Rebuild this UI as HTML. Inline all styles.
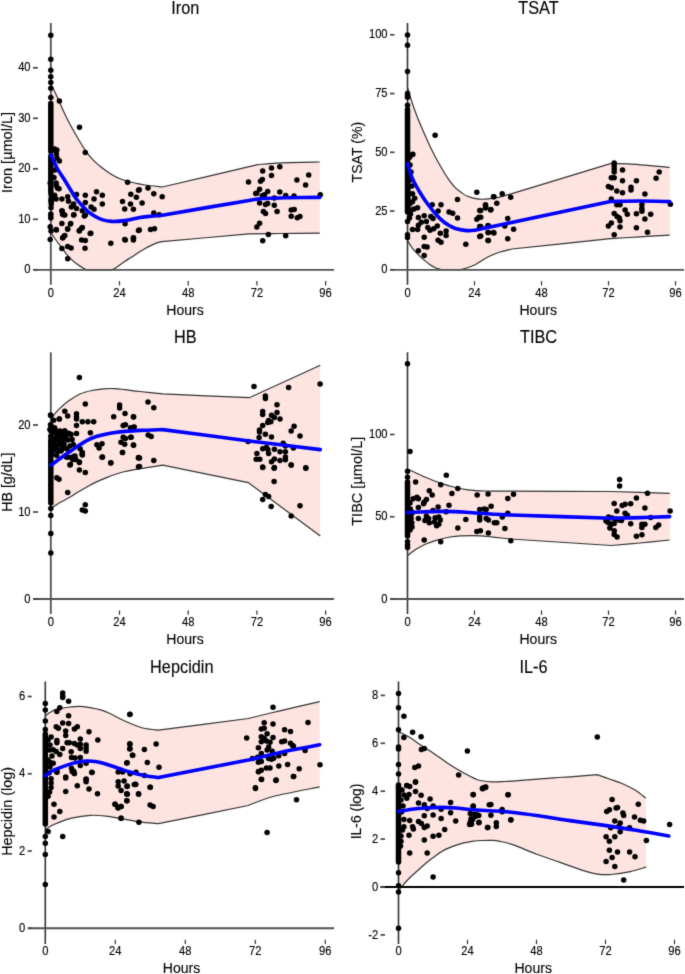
<!DOCTYPE html>
<html><head><meta charset="utf-8"><style>
html,body{margin:0;padding:0;background:#fff;}
svg{display:block;font-family:"Liberation Sans",sans-serif;}
</style></head><body>
<svg width="685" height="974" viewBox="0 0 685 974">
<defs><filter id="b" filterUnits="userSpaceOnUse" x="-5" y="-5" width="695" height="984" color-interpolation-filters="sRGB"><feConvolveMatrix order="3" kernelMatrix="1 6 1 6 40 6 1 6 1" divisor="68" edgeMode="duplicate"/></filter></defs><rect width="685" height="974" fill="#fff"/>
<g filter="url(#b)">
<path d="M50.8,85.5 C51.1,85.78 51.57,85.35 52.6,87.2 C53.63,89.05 55.83,94.03 57,96.6 C58.17,99.17 58.43,100 59.6,102.6 C60.77,105.2 62.53,109.1 64,112.2 C65.47,115.3 66.8,118.1 68.4,121.2 C70,124.3 71.92,127.78 73.6,130.8 C75.28,133.82 76.52,136 78.5,139.3 C80.48,142.6 83.17,147.25 85.5,150.6 C87.83,153.95 89.87,156.62 92.5,159.4 C95.13,162.18 98.38,164.95 101.3,167.3 C104.22,169.65 107.08,171.67 110,173.5 C112.92,175.33 115.88,176.98 118.8,178.3 C121.72,179.62 124.8,180.62 127.5,181.4 C130.2,182.18 132.08,182.4 135,183 C137.92,183.6 140.45,184.33 145,185 C149.55,185.67 159.42,186.67 162.3,187 C178.2,183.27 241.8,168.33 257.7,164.6 C261.6,164.3 270.75,163.23 281.1,162.8 C291.45,162.37 313.35,162.13 319.8,162 L319.8,233.2 C313.17,233.25 291.8,233.38 280,233.5 C268.2,233.62 254.17,233.83 249,233.9 C234.5,235.18 176.5,240.32 162,241.6 C160.83,241.93 158.1,242.28 155,243.6 C151.9,244.92 147.28,247.27 143.4,249.5 C139.52,251.73 134.77,255.05 131.7,257 C128.63,258.95 126.95,259.9 125,261.2 C123.05,262.5 121.5,263.7 120,264.8 C118.5,265.9 117.42,266.97 116,267.8 C114.58,268.63 112.25,269.47 111.5,269.8 C107.33,269.8 90.67,269.8 86.5,269.8 C86.17,269.63 85.92,269.65 84.5,268.8 C83.08,267.95 80.55,266.6 78,264.7 C75.45,262.8 72.37,260.82 69.2,257.4 C66.03,253.98 62.07,248.33 59,244.2 C55.93,240.07 52.17,234.53 50.8,232.6 Z" fill="#fde4e0" stroke="none"/>
<path d="M50.8,85.5 C51.1,85.78 51.57,85.35 52.6,87.2 C53.63,89.05 55.83,94.03 57,96.6 C58.17,99.17 58.43,100 59.6,102.6 C60.77,105.2 62.53,109.1 64,112.2 C65.47,115.3 66.8,118.1 68.4,121.2 C70,124.3 71.92,127.78 73.6,130.8 C75.28,133.82 76.52,136 78.5,139.3 C80.48,142.6 83.17,147.25 85.5,150.6 C87.83,153.95 89.87,156.62 92.5,159.4 C95.13,162.18 98.38,164.95 101.3,167.3 C104.22,169.65 107.08,171.67 110,173.5 C112.92,175.33 115.88,176.98 118.8,178.3 C121.72,179.62 124.8,180.62 127.5,181.4 C130.2,182.18 132.08,182.4 135,183 C137.92,183.6 140.45,184.33 145,185 C149.55,185.67 159.42,186.67 162.3,187 C178.2,183.27 241.8,168.33 257.7,164.6 C261.6,164.3 270.75,163.23 281.1,162.8 C291.45,162.37 313.35,162.13 319.8,162" fill="none" stroke="#333" stroke-width="1.2"/>
<path d="M50.8,232.6 C52.17,234.53 55.93,240.07 59,244.2 C62.07,248.33 66.03,253.98 69.2,257.4 C72.37,260.82 75.45,262.8 78,264.7 C80.55,266.6 83.08,267.95 84.5,268.8 C85.92,269.65 86.17,269.63 86.5,269.8 C90.67,269.8 107.33,269.8 111.5,269.8 C112.25,269.47 114.58,268.63 116,267.8 C117.42,266.97 118.5,265.9 120,264.8 C121.5,263.7 123.05,262.5 125,261.2 C126.95,259.9 128.63,258.95 131.7,257 C134.77,255.05 139.52,251.73 143.4,249.5 C147.28,247.27 151.9,244.92 155,243.6 C158.1,242.28 160.83,241.93 162,241.6 C176.5,240.32 234.5,235.18 249,233.9 C254.17,233.83 268.2,233.62 280,233.5 C291.8,233.38 313.17,233.25 319.8,233.2" fill="none" stroke="#333" stroke-width="1.2"/>
<line x1="50.8" y1="23" x2="50.8" y2="284.7" stroke="#505050" stroke-width="1.8"/>
<line x1="33.8" y1="269.8" x2="334" y2="269.8" stroke="#505050" stroke-width="1.8"/>
<line x1="33" y1="269.8" x2="38" y2="269.8" stroke="#444" stroke-width="1.7"/>
<text transform="translate(30.6,273.4) scale(1,1.12)" font-size="11.2" text-anchor="end" fill="#000" stroke="#000" stroke-width="0.12">0</text>
<line x1="33" y1="219.3" x2="38" y2="219.3" stroke="#444" stroke-width="1.7"/>
<text transform="translate(30.6,222.9) scale(1,1.12)" font-size="11.2" text-anchor="end" fill="#000" stroke="#000" stroke-width="0.12">10</text>
<line x1="33" y1="168.8" x2="38" y2="168.8" stroke="#444" stroke-width="1.7"/>
<text transform="translate(30.6,172.4) scale(1,1.12)" font-size="11.2" text-anchor="end" fill="#000" stroke="#000" stroke-width="0.12">20</text>
<line x1="33" y1="118.3" x2="38" y2="118.3" stroke="#444" stroke-width="1.7"/>
<text transform="translate(30.6,121.9) scale(1,1.12)" font-size="11.2" text-anchor="end" fill="#000" stroke="#000" stroke-width="0.12">30</text>
<line x1="33" y1="67.8" x2="38" y2="67.8" stroke="#444" stroke-width="1.7"/>
<text transform="translate(30.6,71.4) scale(1,1.12)" font-size="11.2" text-anchor="end" fill="#000" stroke="#000" stroke-width="0.12">40</text>
<text transform="translate(50.8,296.75) scale(1,1.12)" font-size="11.2" text-anchor="middle" fill="#000" stroke="#000" stroke-width="0.12">0</text>
<line x1="119.5" y1="281.1" x2="119.5" y2="285.5" stroke="#333" stroke-width="1.2"/>
<text transform="translate(119.5,296.75) scale(1,1.12)" font-size="11.2" text-anchor="middle" fill="#000" stroke="#000" stroke-width="0.12">24</text>
<line x1="188.2" y1="281.1" x2="188.2" y2="285.5" stroke="#333" stroke-width="1.2"/>
<text transform="translate(188.2,296.75) scale(1,1.12)" font-size="11.2" text-anchor="middle" fill="#000" stroke="#000" stroke-width="0.12">48</text>
<line x1="256.9" y1="281.1" x2="256.9" y2="285.5" stroke="#333" stroke-width="1.2"/>
<text transform="translate(256.9,296.75) scale(1,1.12)" font-size="11.2" text-anchor="middle" fill="#000" stroke="#000" stroke-width="0.12">72</text>
<line x1="325.6" y1="281.1" x2="325.6" y2="285.5" stroke="#333" stroke-width="1.2"/>
<text transform="translate(325.6,296.75) scale(1,1.12)" font-size="11.2" text-anchor="middle" fill="#000" stroke="#000" stroke-width="0.12">96</text>
<line x1="50.8" y1="103.5" x2="50.8" y2="151.5" stroke="#000" stroke-width="5.5" stroke-linecap="round"/>
<line x1="50.8" y1="156" x2="50.8" y2="192" stroke="#000" stroke-width="5.5" stroke-linecap="round"/>
<line x1="51.2" y1="198" x2="51.2" y2="204" stroke="#000" stroke-width="5.5" stroke-linecap="round"/>
<line x1="50.8" y1="214" x2="50.8" y2="218" stroke="#000" stroke-width="5.5" stroke-linecap="round"/>
<g fill="#000"><circle cx="50.8" cy="35.2" r="2.75"/><circle cx="50.8" cy="59.3" r="2.75"/><circle cx="50.8" cy="70.2" r="2.75"/><circle cx="50.8" cy="76.8" r="2.75"/><circle cx="50.8" cy="82.6" r="2.75"/><circle cx="50.8" cy="88.2" r="2.75"/><circle cx="50.8" cy="97.6" r="2.75"/><circle cx="59.4" cy="101.1" r="2.75"/><circle cx="79.5" cy="127.3" r="2.75"/><circle cx="85.3" cy="152.5" r="2.75"/><circle cx="127.6" cy="182.3" r="2.75"/><circle cx="59.4" cy="161.1" r="2.75"/><circle cx="56.8" cy="149.9" r="2.75"/><circle cx="54.6" cy="149.1" r="2.75"/><circle cx="55.2" cy="150.5" r="2.75"/><circle cx="56.4" cy="154" r="2.75"/><circle cx="50.2" cy="182.9" r="2.75"/><circle cx="56.1" cy="182.9" r="2.75"/><circle cx="57.5" cy="188" r="2.75"/><circle cx="59" cy="188.8" r="2.75"/><circle cx="51" cy="194.6" r="2.75"/><circle cx="54.6" cy="195.3" r="2.75"/><circle cx="51" cy="200.4" r="2.75"/><circle cx="56.1" cy="199" r="2.75"/><circle cx="61.9" cy="199" r="2.75"/><circle cx="67.7" cy="196.8" r="2.75"/><circle cx="68.5" cy="201.2" r="2.75"/><circle cx="76.5" cy="194.6" r="2.75"/><circle cx="85.3" cy="195.3" r="2.75"/><circle cx="96.5" cy="191.7" r="2.75"/><circle cx="102.3" cy="195.3" r="2.75"/><circle cx="94" cy="199" r="2.75"/><circle cx="102.3" cy="204.1" r="2.75"/><circle cx="85.3" cy="202.6" r="2.75"/><circle cx="73.6" cy="204.1" r="2.75"/><circle cx="71.4" cy="207" r="2.75"/><circle cx="76.5" cy="208.5" r="2.75"/><circle cx="82.3" cy="210.7" r="2.75"/><circle cx="91.1" cy="207" r="2.75"/><circle cx="94" cy="209.2" r="2.75"/><circle cx="85.3" cy="215" r="2.75"/><circle cx="73.6" cy="215" r="2.75"/><circle cx="61.9" cy="210.7" r="2.75"/><circle cx="62.6" cy="214.3" r="2.75"/><circle cx="64.8" cy="215" r="2.75"/><circle cx="51" cy="207.7" r="2.75"/><circle cx="61.9" cy="223.5" r="2.75"/><circle cx="70.7" cy="223.5" r="2.75"/><circle cx="67.7" cy="229.2" r="2.75"/><circle cx="56.1" cy="229.6" r="2.75"/><circle cx="50.2" cy="226.7" r="2.75"/><circle cx="51" cy="231.1" r="2.75"/><circle cx="82.3" cy="227.4" r="2.75"/><circle cx="79.4" cy="230.4" r="2.75"/><circle cx="90.8" cy="233.3" r="2.75"/><circle cx="64.8" cy="235.5" r="2.75"/><circle cx="62.6" cy="238.1" r="2.75"/><circle cx="81.6" cy="239.9" r="2.75"/><circle cx="85.3" cy="240.6" r="2.75"/><circle cx="50.2" cy="239.6" r="2.75"/><circle cx="61.9" cy="248.6" r="2.75"/><circle cx="67.7" cy="246.4" r="2.75"/><circle cx="71.1" cy="247.9" r="2.75"/><circle cx="85" cy="248.2" r="2.75"/><circle cx="67.7" cy="258.8" r="2.75"/><circle cx="110.8" cy="243.2" r="2.75"/><circle cx="124.7" cy="239.6" r="2.75"/><circle cx="133.4" cy="237.7" r="2.75"/><circle cx="133.4" cy="239.9" r="2.75"/><circle cx="138.5" cy="230.4" r="2.75"/><circle cx="125.1" cy="223.8" r="2.75"/><circle cx="122.5" cy="201.6" r="2.75"/><circle cx="124.7" cy="208.9" r="2.75"/><circle cx="130.5" cy="204.1" r="2.75"/><circle cx="133.4" cy="209.2" r="2.75"/><circle cx="130.8" cy="194.3" r="2.75"/><circle cx="136.4" cy="197.2" r="2.75"/><circle cx="138.5" cy="190.2" r="2.75"/><circle cx="54" cy="177.4" r="2.75"/><circle cx="56.4" cy="185.6" r="2.75"/><circle cx="55" cy="170" r="2.75"/><circle cx="53.5" cy="162" r="2.75"/><circle cx="57" cy="158" r="2.75"/><circle cx="139.3" cy="189.8" r="2.75"/><circle cx="148" cy="187.9" r="2.75"/><circle cx="153.8" cy="193.7" r="2.75"/><circle cx="162.2" cy="196.8" r="2.75"/><circle cx="142.1" cy="203.1" r="2.75"/><circle cx="150.5" cy="229.5" r="2.75"/><circle cx="154.5" cy="228.8" r="2.75"/><circle cx="153.8" cy="212.9" r="2.75"/><circle cx="159.2" cy="214.8" r="2.75"/><circle cx="125.3" cy="240" r="2.75"/><circle cx="133.5" cy="238.1" r="2.75"/><circle cx="139.3" cy="230" r="2.75"/><circle cx="63.4" cy="237" r="2.75"/><circle cx="90.2" cy="233.5" r="2.75"/><circle cx="62.2" cy="211.3" r="2.75"/><circle cx="63.4" cy="214.8" r="2.75"/><circle cx="73.9" cy="214.8" r="2.75"/><circle cx="84.4" cy="215.9" r="2.75"/><circle cx="70.4" cy="224.1" r="2.75"/><circle cx="56.4" cy="230" r="2.75"/><circle cx="67.6" cy="228.8" r="2.75"/><circle cx="81.6" cy="228.3" r="2.75"/><circle cx="79.3" cy="231.1" r="2.75"/><circle cx="248.5" cy="182" r="2.75"/><circle cx="262.7" cy="171.1" r="2.75"/><circle cx="271.5" cy="168" r="2.75"/><circle cx="279.8" cy="166.7" r="2.75"/><circle cx="271.5" cy="175.5" r="2.75"/><circle cx="262.3" cy="179.4" r="2.75"/><circle cx="260.5" cy="181.2" r="2.75"/><circle cx="296.9" cy="179.9" r="2.75"/><circle cx="308.7" cy="175" r="2.75"/><circle cx="305.6" cy="184.9" r="2.75"/><circle cx="259.6" cy="189.3" r="2.75"/><circle cx="256.8" cy="193.2" r="2.75"/><circle cx="267.7" cy="191.5" r="2.75"/><circle cx="279.8" cy="191.9" r="2.75"/><circle cx="285.7" cy="195.4" r="2.75"/><circle cx="294" cy="196" r="2.75"/><circle cx="320.3" cy="194.7" r="2.75"/><circle cx="262.3" cy="195.8" r="2.75"/><circle cx="274.3" cy="198" r="2.75"/><circle cx="259.6" cy="203.1" r="2.75"/><circle cx="265.5" cy="204.6" r="2.75"/><circle cx="267.7" cy="203.5" r="2.75"/><circle cx="274.3" cy="205.3" r="2.75"/><circle cx="277.1" cy="211.6" r="2.75"/><circle cx="263.4" cy="211.6" r="2.75"/><circle cx="265.5" cy="213.4" r="2.75"/><circle cx="291.2" cy="210" r="2.75"/><circle cx="294.2" cy="209.6" r="2.75"/><circle cx="291.2" cy="216.2" r="2.75"/><circle cx="297.3" cy="217.7" r="2.75"/><circle cx="299.9" cy="216.6" r="2.75"/><circle cx="259.6" cy="223.2" r="2.75"/><circle cx="256.8" cy="226.9" r="2.75"/><circle cx="268.4" cy="234.6" r="2.75"/><circle cx="262.7" cy="240.7" r="2.75"/><circle cx="285.7" cy="235.7" r="2.75"/><circle cx="264.4" cy="194.7" r="2.75"/><circle cx="255.7" cy="193.6" r="2.75"/></g>
<path d="M50.8,154.9 C51.88,157.17 55.18,164.6 57.3,168.5 C59.42,172.4 61.45,175.02 63.5,178.3 C65.55,181.58 67.55,184.88 69.6,188.2 C71.65,191.52 73.73,195.32 75.8,198.2 C77.87,201.08 79.95,203.27 82,205.5 C84.05,207.73 86.05,209.87 88.1,211.6 C90.15,213.33 91.98,214.57 94.3,215.9 C96.62,217.23 99.13,218.68 102,219.6 C104.87,220.52 107.72,221.23 111.5,221.4 C115.28,221.57 119.95,221.23 124.7,220.6 C129.45,219.97 135.78,218.32 140,217.6 C144.22,216.88 146.28,216.68 150,216.3 C153.72,215.92 160.25,215.47 162.3,215.3 C176.75,212.82 231.63,203.22 249,200.4 C266.37,197.58 259.67,198.85 266.5,198.4 C273.33,197.95 281.12,197.87 290,197.7 C298.88,197.53 314.83,197.45 319.8,197.4" fill="none" stroke="#0000ff" stroke-width="3.6" stroke-linecap="round" stroke-linejoin="round"/>
<text transform="translate(185.3,14.1) scale(1,1.08)" font-size="16.3" text-anchor="middle" fill="#000" stroke="#000" stroke-width="0.12">Iron</text>
<text transform="translate(185,314.5) scale(1,1.1)" font-size="14.1" text-anchor="middle" fill="#000" stroke="#000" stroke-width="0.12">Hours</text>
<text transform="translate(11.6,152.45) scale(1,0.97) rotate(-90)" font-size="15" text-anchor="middle" fill="#000" stroke="#000" stroke-width="0.12">Iron [µmol/L]</text>
<path d="M407.5,87.5 C408.32,90.17 410.77,98.58 412.4,103.5 C414.03,108.42 415.45,112.28 417.3,117 C419.15,121.72 421.45,127.07 423.5,131.8 C425.55,136.53 427.55,141.08 429.6,145.4 C431.65,149.72 433.73,153.8 435.8,157.7 C437.87,161.6 439.95,165.32 442,168.8 C444.05,172.28 445.93,175.5 448.1,178.6 C450.27,181.7 452.73,185.03 455,187.4 C457.27,189.77 459.62,191.32 461.7,192.8 C463.78,194.28 465.17,195.33 467.5,196.3 C469.83,197.27 472.78,198.12 475.7,198.6 C478.62,199.08 481.88,199.3 485,199.2 C488.12,199.1 491.47,198.48 494.4,198 C497.33,197.52 499.68,197.03 502.6,196.3 C505.52,195.57 510.35,194.05 511.9,193.6 C528.32,188.6 593.98,168.6 610.4,163.6 C613.47,163.65 618.92,163.25 628.8,163.9 C638.68,164.55 662.88,166.9 669.7,167.5 L669.7,235.2 C664.75,235.47 649.88,236.22 640,236.8 C630.12,237.38 615.33,238.38 610.4,238.7 C593.98,240.42 528.32,247.28 511.9,249 C509.92,249.5 503.65,250.83 500,252 C496.35,253.17 493,254.58 490,256 C487,257.42 484.5,259.05 482,260.5 C479.5,261.95 477.43,263.5 475,264.7 C472.57,265.9 469.83,266.88 467.4,267.7 C464.97,268.52 461.57,269.28 460.4,269.6 C457.28,269.6 444.82,269.6 441.7,269.6 C440.73,269.33 437.85,268.82 435.9,268 C433.95,267.18 431.95,266.02 430,264.7 C428.05,263.38 426.13,261.75 424.2,260.1 C422.27,258.45 420.35,256.75 418.4,254.8 C416.45,252.85 414.32,250.77 412.5,248.4 C410.68,246.03 408.33,241.9 407.5,240.6 Z" fill="#fde4e0" stroke="none"/>
<path d="M407.5,87.5 C408.32,90.17 410.77,98.58 412.4,103.5 C414.03,108.42 415.45,112.28 417.3,117 C419.15,121.72 421.45,127.07 423.5,131.8 C425.55,136.53 427.55,141.08 429.6,145.4 C431.65,149.72 433.73,153.8 435.8,157.7 C437.87,161.6 439.95,165.32 442,168.8 C444.05,172.28 445.93,175.5 448.1,178.6 C450.27,181.7 452.73,185.03 455,187.4 C457.27,189.77 459.62,191.32 461.7,192.8 C463.78,194.28 465.17,195.33 467.5,196.3 C469.83,197.27 472.78,198.12 475.7,198.6 C478.62,199.08 481.88,199.3 485,199.2 C488.12,199.1 491.47,198.48 494.4,198 C497.33,197.52 499.68,197.03 502.6,196.3 C505.52,195.57 510.35,194.05 511.9,193.6 C528.32,188.6 593.98,168.6 610.4,163.6 C613.47,163.65 618.92,163.25 628.8,163.9 C638.68,164.55 662.88,166.9 669.7,167.5" fill="none" stroke="#333" stroke-width="1.2"/>
<path d="M407.5,240.6 C408.33,241.9 410.68,246.03 412.5,248.4 C414.32,250.77 416.45,252.85 418.4,254.8 C420.35,256.75 422.27,258.45 424.2,260.1 C426.13,261.75 428.05,263.38 430,264.7 C431.95,266.02 433.95,267.18 435.9,268 C437.85,268.82 440.73,269.33 441.7,269.6 C444.82,269.6 457.28,269.6 460.4,269.6 C461.57,269.28 464.97,268.52 467.4,267.7 C469.83,266.88 472.57,265.9 475,264.7 C477.43,263.5 479.5,261.95 482,260.5 C484.5,259.05 487,257.42 490,256 C493,254.58 496.35,253.17 500,252 C503.65,250.83 509.92,249.5 511.9,249 C528.32,247.28 593.98,240.42 610.4,238.7 C615.33,238.38 630.12,237.38 640,236.8 C649.88,236.22 664.75,235.47 669.7,235.2" fill="none" stroke="#333" stroke-width="1.2"/>
<line x1="407.5" y1="23" x2="407.5" y2="284.7" stroke="#333" stroke-width="1.6"/>
<line x1="390.75" y1="269.8" x2="684" y2="269.8" stroke="#505050" stroke-width="1.8"/>
<line x1="390" y1="269.8" x2="394.5" y2="269.8" stroke="#444" stroke-width="1.7"/>
<text transform="translate(387.6,273.4) scale(1,1.12)" font-size="11.2" text-anchor="end" fill="#000" stroke="#000" stroke-width="0.12">0</text>
<line x1="390" y1="211.05" x2="394.5" y2="211.05" stroke="#444" stroke-width="1.7"/>
<text transform="translate(387.6,214.65) scale(1,1.12)" font-size="11.2" text-anchor="end" fill="#000" stroke="#000" stroke-width="0.12">25</text>
<line x1="390" y1="152.3" x2="394.5" y2="152.3" stroke="#444" stroke-width="1.7"/>
<text transform="translate(387.6,155.9) scale(1,1.12)" font-size="11.2" text-anchor="end" fill="#000" stroke="#000" stroke-width="0.12">50</text>
<line x1="390" y1="93.55" x2="394.5" y2="93.55" stroke="#444" stroke-width="1.7"/>
<text transform="translate(387.6,97.15) scale(1,1.12)" font-size="11.2" text-anchor="end" fill="#000" stroke="#000" stroke-width="0.12">75</text>
<line x1="390" y1="34.8" x2="394.5" y2="34.8" stroke="#444" stroke-width="1.7"/>
<text transform="translate(387.6,38.4) scale(1,1.12)" font-size="11.2" text-anchor="end" fill="#000" stroke="#000" stroke-width="0.12">100</text>
<text transform="translate(407.5,296.75) scale(1,1.12)" font-size="11.2" text-anchor="middle" fill="#000" stroke="#000" stroke-width="0.12">0</text>
<line x1="474.5" y1="281.1" x2="474.5" y2="285.5" stroke="#333" stroke-width="1.2"/>
<text transform="translate(474.5,296.75) scale(1,1.12)" font-size="11.2" text-anchor="middle" fill="#000" stroke="#000" stroke-width="0.12">24</text>
<line x1="541.5" y1="281.1" x2="541.5" y2="285.5" stroke="#333" stroke-width="1.2"/>
<text transform="translate(541.5,296.75) scale(1,1.12)" font-size="11.2" text-anchor="middle" fill="#000" stroke="#000" stroke-width="0.12">48</text>
<line x1="608.5" y1="281.1" x2="608.5" y2="285.5" stroke="#333" stroke-width="1.2"/>
<text transform="translate(608.5,296.75) scale(1,1.12)" font-size="11.2" text-anchor="middle" fill="#000" stroke="#000" stroke-width="0.12">72</text>
<line x1="675.5" y1="281.1" x2="675.5" y2="285.5" stroke="#333" stroke-width="1.2"/>
<text transform="translate(675.5,296.75) scale(1,1.12)" font-size="11.2" text-anchor="middle" fill="#000" stroke="#000" stroke-width="0.12">96</text>
<line x1="407.5" y1="109.5" x2="407.5" y2="212" stroke="#000" stroke-width="5.5" stroke-linecap="round"/>
<line x1="407.8" y1="186" x2="407.8" y2="200" stroke="#000" stroke-width="5.5" stroke-linecap="round"/>
<g fill="#000"><circle cx="407.5" cy="35" r="2.75"/><circle cx="407.5" cy="45.2" r="2.75"/><circle cx="407.5" cy="71.5" r="2.75"/><circle cx="407.5" cy="93.6" r="2.75"/><circle cx="407.5" cy="95.8" r="2.75"/><circle cx="407.5" cy="97.2" r="2.75"/><circle cx="407.5" cy="105.3" r="2.75"/><circle cx="435.1" cy="135.2" r="2.75"/><circle cx="412.8" cy="154.2" r="2.75"/><circle cx="412.5" cy="154.4" r="2.75"/><circle cx="409.6" cy="157.3" r="2.75"/><circle cx="476.8" cy="192.3" r="2.75"/><circle cx="493.5" cy="196.7" r="2.75"/><circle cx="457.5" cy="199.6" r="2.75"/><circle cx="412.5" cy="193.8" r="2.75"/><circle cx="414.7" cy="198.2" r="2.75"/><circle cx="412.5" cy="201.8" r="2.75"/><circle cx="409.6" cy="204" r="2.75"/><circle cx="417.6" cy="207.7" r="2.75"/><circle cx="414" cy="209.1" r="2.75"/><circle cx="411.1" cy="209.9" r="2.75"/><circle cx="432.2" cy="204.7" r="2.75"/><circle cx="441" cy="204.7" r="2.75"/><circle cx="438.1" cy="211" r="2.75"/><circle cx="449" cy="212" r="2.75"/><circle cx="452.7" cy="213.2" r="2.75"/><circle cx="457.5" cy="217.9" r="2.75"/><circle cx="424.2" cy="215.7" r="2.75"/><circle cx="418.4" cy="217.4" r="2.75"/><circle cx="430.8" cy="216.4" r="2.75"/><circle cx="433" cy="218.6" r="2.75"/><circle cx="426.4" cy="221.5" r="2.75"/><circle cx="421.3" cy="222.3" r="2.75"/><circle cx="418.4" cy="225.2" r="2.75"/><circle cx="427.8" cy="227.4" r="2.75"/><circle cx="433.7" cy="228.8" r="2.75"/><circle cx="437.3" cy="225.9" r="2.75"/><circle cx="412.5" cy="229.6" r="2.75"/><circle cx="417.6" cy="229.6" r="2.75"/><circle cx="430" cy="230.3" r="2.75"/><circle cx="440.3" cy="233.2" r="2.75"/><circle cx="446.1" cy="231" r="2.75"/><circle cx="446.1" cy="235.4" r="2.75"/><circle cx="424.2" cy="237.3" r="2.75"/><circle cx="438.1" cy="240.2" r="2.75"/><circle cx="441" cy="242.3" r="2.75"/><circle cx="424.2" cy="246.4" r="2.75"/><circle cx="427.1" cy="247.1" r="2.75"/><circle cx="465.8" cy="244.2" r="2.75"/><circle cx="407.5" cy="221.5" r="2.75"/><circle cx="407.5" cy="234.7" r="2.75"/><circle cx="407.5" cy="237.6" r="2.75"/><circle cx="485.5" cy="204.7" r="2.75"/><circle cx="485.5" cy="207.7" r="2.75"/><circle cx="479.7" cy="210.6" r="2.75"/><circle cx="490.6" cy="209.9" r="2.75"/><circle cx="478.9" cy="217.2" r="2.75"/><circle cx="476.8" cy="219.3" r="2.75"/><circle cx="479.7" cy="226.6" r="2.75"/><circle cx="488.4" cy="225.9" r="2.75"/><circle cx="488.4" cy="232.5" r="2.75"/><circle cx="493.5" cy="232.5" r="2.75"/><circle cx="479.7" cy="236.4" r="2.75"/><circle cx="488.4" cy="240.5" r="2.75"/><circle cx="410" cy="165" r="2.75"/><circle cx="411" cy="172" r="2.75"/><circle cx="410" cy="180" r="2.75"/><circle cx="412" cy="186" r="2.75"/><circle cx="410.5" cy="214" r="2.75"/><circle cx="409.5" cy="218" r="2.75"/><circle cx="493.9" cy="196.7" r="2.75"/><circle cx="502.2" cy="193.8" r="2.75"/><circle cx="510.7" cy="197.2" r="2.75"/><circle cx="496.8" cy="203.3" r="2.75"/><circle cx="485.5" cy="205.5" r="2.75"/><circle cx="485.8" cy="207.7" r="2.75"/><circle cx="490.9" cy="209.6" r="2.75"/><circle cx="480.7" cy="210.6" r="2.75"/><circle cx="480.7" cy="217.2" r="2.75"/><circle cx="507.7" cy="218.6" r="2.75"/><circle cx="488" cy="225.6" r="2.75"/><circle cx="504.8" cy="225.9" r="2.75"/><circle cx="513.6" cy="229.3" r="2.75"/><circle cx="480.7" cy="226.6" r="2.75"/><circle cx="488" cy="232.5" r="2.75"/><circle cx="493.9" cy="232.9" r="2.75"/><circle cx="480.7" cy="236.1" r="2.75"/><circle cx="488" cy="240.5" r="2.75"/><circle cx="507.7" cy="238.8" r="2.75"/><circle cx="614.2" cy="163.1" r="2.75"/><circle cx="614.2" cy="166" r="2.75"/><circle cx="614.2" cy="169" r="2.75"/><circle cx="614.2" cy="171.9" r="2.75"/><circle cx="622.5" cy="170.1" r="2.75"/><circle cx="659.2" cy="171.9" r="2.75"/><circle cx="656.1" cy="178.2" r="2.75"/><circle cx="611.3" cy="177.7" r="2.75"/><circle cx="614.2" cy="177.7" r="2.75"/><circle cx="622.5" cy="180.7" r="2.75"/><circle cx="636.4" cy="180.7" r="2.75"/><circle cx="608.4" cy="186.5" r="2.75"/><circle cx="611.3" cy="187.7" r="2.75"/><circle cx="616.8" cy="190.9" r="2.75"/><circle cx="622.5" cy="192.8" r="2.75"/><circle cx="631" cy="187.2" r="2.75"/><circle cx="631" cy="190.1" r="2.75"/><circle cx="644.9" cy="194.1" r="2.75"/><circle cx="611.3" cy="198.9" r="2.75"/><circle cx="616.8" cy="204.7" r="2.75"/><circle cx="620" cy="204.7" r="2.75"/><circle cx="641.9" cy="204.7" r="2.75"/><circle cx="641.9" cy="208.4" r="2.75"/><circle cx="641.9" cy="211.3" r="2.75"/><circle cx="670.4" cy="204.3" r="2.75"/><circle cx="614.2" cy="213.5" r="2.75"/><circle cx="625.1" cy="209.9" r="2.75"/><circle cx="627.3" cy="214.2" r="2.75"/><circle cx="636.4" cy="213.8" r="2.75"/><circle cx="650.7" cy="214.2" r="2.75"/><circle cx="617.1" cy="216.4" r="2.75"/><circle cx="619.3" cy="217.9" r="2.75"/><circle cx="620" cy="220.8" r="2.75"/><circle cx="644.9" cy="219" r="2.75"/><circle cx="611.3" cy="223" r="2.75"/><circle cx="608.4" cy="225.9" r="2.75"/><circle cx="620" cy="227.1" r="2.75"/><circle cx="636.4" cy="227.7" r="2.75"/><circle cx="647.5" cy="232.2" r="2.75"/><circle cx="614.2" cy="234.7" r="2.75"/><circle cx="418.4" cy="250.7" r="2.75"/><circle cx="424.2" cy="255.4" r="2.75"/></g>
<path d="M407.5,163.8 C408.32,166.23 410.35,173.67 412.4,178.4 C414.45,183.13 417.13,187.77 419.8,192.2 C422.47,196.63 425.53,201.12 428.4,205 C431.27,208.88 434.53,212.75 437,215.5 C439.47,218.25 441.03,219.75 443.2,221.5 C445.37,223.25 447.82,224.78 450,226 C452.18,227.22 453.55,228.03 456.3,228.8 C459.05,229.57 463.38,230.37 466.5,230.6 C469.62,230.83 472.32,230.53 475,230.2 C477.68,229.87 479.27,229.32 482.6,228.6 C485.93,227.88 492.93,226.35 495,225.9 C514.23,221.83 591.17,205.57 610.4,201.5 C615.33,201.42 630.12,200.98 640,201 C649.88,201.02 664.75,201.5 669.7,201.6" fill="none" stroke="#0000ff" stroke-width="3.6" stroke-linecap="round" stroke-linejoin="round"/>
<text transform="translate(538.5,14.1) scale(1,1.08)" font-size="16.3" text-anchor="middle" fill="#000" stroke="#000" stroke-width="0.12">TSAT</text>
<text transform="translate(538.2,314.5) scale(1,1.1)" font-size="14.1" text-anchor="middle" fill="#000" stroke="#000" stroke-width="0.12">Hours</text>
<text transform="translate(361.6,152.15) scale(1,0.94) rotate(-90)" font-size="15" text-anchor="middle" fill="#000" stroke="#000" stroke-width="0.12">TSAT (%)</text>
<path d="M50.8,419.5 C51,419.15 50.63,419.12 52,417.4 C53.37,415.68 56.27,411.93 59,409.2 C61.73,406.47 64.9,403.53 68.4,401 C71.9,398.47 76.12,395.75 80,394 C83.88,392.25 87.8,391.37 91.7,390.5 C95.6,389.63 99.5,389.12 103.4,388.8 C107.3,388.48 111.5,388.45 115.1,388.6 C118.7,388.75 120.85,389.22 125,389.7 C129.15,390.18 133.7,390.8 140,391.5 C146.3,392.2 159,393.5 162.8,393.9 C177.22,394.53 234.88,397.07 249.3,397.7 C261.13,392.3 308.47,370.7 320.3,365.3 L320.3,536.1 C308.28,527.18 260.22,491.52 248.2,482.6 C233.97,479.68 177.03,468.02 162.8,465.1 C159,465.7 146.3,467.63 140,468.7 C133.7,469.77 129.17,470.53 125,471.5 C120.83,472.47 118.07,473.48 115,474.5 C111.93,475.52 109.6,476.42 106.6,477.6 C103.6,478.78 100.08,480.17 97,481.6 C93.92,483.03 91.1,484.55 88.1,486.2 C85.1,487.85 82.07,489.65 79,491.5 C75.93,493.35 72.87,495.45 69.7,497.3 C66.53,499.15 63.15,500.75 60,502.6 C56.85,504.45 52.33,507.43 50.8,508.4 Z" fill="#fde4e0" stroke="none"/>
<path d="M50.8,419.5 C51,419.15 50.63,419.12 52,417.4 C53.37,415.68 56.27,411.93 59,409.2 C61.73,406.47 64.9,403.53 68.4,401 C71.9,398.47 76.12,395.75 80,394 C83.88,392.25 87.8,391.37 91.7,390.5 C95.6,389.63 99.5,389.12 103.4,388.8 C107.3,388.48 111.5,388.45 115.1,388.6 C118.7,388.75 120.85,389.22 125,389.7 C129.15,390.18 133.7,390.8 140,391.5 C146.3,392.2 159,393.5 162.8,393.9 C177.22,394.53 234.88,397.07 249.3,397.7 C261.13,392.3 308.47,370.7 320.3,365.3" fill="none" stroke="#333" stroke-width="1.2"/>
<path d="M50.8,508.4 C52.33,507.43 56.85,504.45 60,502.6 C63.15,500.75 66.53,499.15 69.7,497.3 C72.87,495.45 75.93,493.35 79,491.5 C82.07,489.65 85.1,487.85 88.1,486.2 C91.1,484.55 93.92,483.03 97,481.6 C100.08,480.17 103.6,478.78 106.6,477.6 C109.6,476.42 111.93,475.52 115,474.5 C118.07,473.48 120.83,472.47 125,471.5 C129.17,470.53 133.7,469.77 140,468.7 C146.3,467.63 159,465.7 162.8,465.1 C177.03,468.02 233.97,479.68 248.2,482.6 C260.22,491.52 308.28,527.18 320.3,536.1" fill="none" stroke="#333" stroke-width="1.2"/>
<line x1="50.8" y1="352.3" x2="50.8" y2="614" stroke="#505050" stroke-width="1.8"/>
<line x1="33.8" y1="599" x2="334" y2="599" stroke="#505050" stroke-width="1.8"/>
<line x1="33" y1="599" x2="38" y2="599" stroke="#444" stroke-width="1.7"/>
<text transform="translate(30.6,602.6) scale(1,1.12)" font-size="11.2" text-anchor="end" fill="#000" stroke="#000" stroke-width="0.12">0</text>
<line x1="33" y1="512" x2="38" y2="512" stroke="#444" stroke-width="1.7"/>
<text transform="translate(30.6,515.6) scale(1,1.12)" font-size="11.2" text-anchor="end" fill="#000" stroke="#000" stroke-width="0.12">10</text>
<line x1="33" y1="425" x2="38" y2="425" stroke="#444" stroke-width="1.7"/>
<text transform="translate(30.6,428.6) scale(1,1.12)" font-size="11.2" text-anchor="end" fill="#000" stroke="#000" stroke-width="0.12">20</text>
<text transform="translate(50.8,626.05) scale(1,1.12)" font-size="11.2" text-anchor="middle" fill="#000" stroke="#000" stroke-width="0.12">0</text>
<line x1="119.5" y1="610.4" x2="119.5" y2="614.8" stroke="#333" stroke-width="1.2"/>
<text transform="translate(119.5,626.05) scale(1,1.12)" font-size="11.2" text-anchor="middle" fill="#000" stroke="#000" stroke-width="0.12">24</text>
<line x1="188.2" y1="610.4" x2="188.2" y2="614.8" stroke="#333" stroke-width="1.2"/>
<text transform="translate(188.2,626.05) scale(1,1.12)" font-size="11.2" text-anchor="middle" fill="#000" stroke="#000" stroke-width="0.12">48</text>
<line x1="256.9" y1="610.4" x2="256.9" y2="614.8" stroke="#333" stroke-width="1.2"/>
<text transform="translate(256.9,626.05) scale(1,1.12)" font-size="11.2" text-anchor="middle" fill="#000" stroke="#000" stroke-width="0.12">72</text>
<line x1="325.6" y1="610.4" x2="325.6" y2="614.8" stroke="#333" stroke-width="1.2"/>
<text transform="translate(325.6,626.05) scale(1,1.12)" font-size="11.2" text-anchor="middle" fill="#000" stroke="#000" stroke-width="0.12">96</text>
<line x1="50.8" y1="440" x2="50.8" y2="503" stroke="#000" stroke-width="5.5" stroke-linecap="round"/>
<g fill="#000"><circle cx="79.4" cy="377.6" r="2.75"/><circle cx="85.3" cy="403.9" r="2.75"/><circle cx="50.5" cy="415" r="2.75"/><circle cx="59.4" cy="418.9" r="2.75"/><circle cx="64.8" cy="411.3" r="2.75"/><circle cx="67.7" cy="416" r="2.75"/><circle cx="76.5" cy="413.8" r="2.75"/><circle cx="76.5" cy="416.7" r="2.75"/><circle cx="76.5" cy="418.9" r="2.75"/><circle cx="82.3" cy="421.8" r="2.75"/><circle cx="87.9" cy="421.8" r="2.75"/><circle cx="93.7" cy="421.8" r="2.75"/><circle cx="76.5" cy="425.5" r="2.75"/><circle cx="90.4" cy="432.8" r="2.75"/><circle cx="76.5" cy="433.5" r="2.75"/><circle cx="70.7" cy="434.2" r="2.75"/><circle cx="119.6" cy="405" r="2.75"/><circle cx="119.6" cy="408" r="2.75"/><circle cx="125" cy="413.4" r="2.75"/><circle cx="113.7" cy="416.7" r="2.75"/><circle cx="133.4" cy="416.7" r="2.75"/><circle cx="123.2" cy="425.5" r="2.75"/><circle cx="125.4" cy="424.7" r="2.75"/><circle cx="130.5" cy="427.7" r="2.75"/><circle cx="134.2" cy="426.9" r="2.75"/><circle cx="123.2" cy="437.2" r="2.75"/><circle cx="125.4" cy="438.6" r="2.75"/><circle cx="131.2" cy="437.2" r="2.75"/><circle cx="121" cy="442.3" r="2.75"/><circle cx="124.7" cy="444.2" r="2.75"/><circle cx="133.4" cy="444.9" r="2.75"/><circle cx="122.5" cy="452.5" r="2.75"/><circle cx="96.9" cy="444.7" r="2.75"/><circle cx="102" cy="443.7" r="2.75"/><circle cx="99.1" cy="448.1" r="2.75"/><circle cx="102" cy="457.2" r="2.75"/><circle cx="110.8" cy="462.7" r="2.75"/><circle cx="138.5" cy="457.6" r="2.75"/><circle cx="80.1" cy="448.8" r="2.75"/><circle cx="82.3" cy="452.5" r="2.75"/><circle cx="82.3" cy="454.4" r="2.75"/><circle cx="75" cy="456.1" r="2.75"/><circle cx="71.4" cy="457.6" r="2.75"/><circle cx="72.8" cy="459.8" r="2.75"/><circle cx="79.4" cy="462" r="2.75"/><circle cx="69.9" cy="464.9" r="2.75"/><circle cx="66.3" cy="456.9" r="2.75"/><circle cx="50.5" cy="424.7" r="2.75"/><circle cx="54.6" cy="427.7" r="2.75"/><circle cx="54" cy="432" r="2.75"/><circle cx="57" cy="435" r="2.75"/><circle cx="60" cy="431" r="2.75"/><circle cx="63" cy="436" r="2.75"/><circle cx="66" cy="433" r="2.75"/><circle cx="56" cy="440" r="2.75"/><circle cx="60" cy="442" r="2.75"/><circle cx="64" cy="444" r="2.75"/><circle cx="68" cy="440" r="2.75"/><circle cx="53" cy="446" r="2.75"/><circle cx="57" cy="449" r="2.75"/><circle cx="61" cy="451" r="2.75"/><circle cx="65" cy="448" r="2.75"/><circle cx="62" cy="438" r="2.75"/><circle cx="67" cy="449" r="2.75"/><circle cx="70" cy="446" r="2.75"/><circle cx="56.8" cy="477.7" r="2.75"/><circle cx="59" cy="479.2" r="2.75"/><circle cx="67.7" cy="492.6" r="2.75"/><circle cx="85.3" cy="504.7" r="2.75"/><circle cx="82.3" cy="509.9" r="2.75"/><circle cx="85.3" cy="511" r="2.75"/><circle cx="70.4" cy="464.6" r="2.75"/><circle cx="79.4" cy="462.4" r="2.75"/><circle cx="79.4" cy="470.1" r="2.75"/><circle cx="85.3" cy="472.6" r="2.75"/><circle cx="67.7" cy="457.3" r="2.75"/><circle cx="73.6" cy="456.6" r="2.75"/><circle cx="75.8" cy="459.5" r="2.75"/><circle cx="82.3" cy="452.9" r="2.75"/><circle cx="82.3" cy="455.1" r="2.75"/><circle cx="102.5" cy="457" r="2.75"/><circle cx="110.8" cy="463.1" r="2.75"/><circle cx="122.5" cy="452.6" r="2.75"/><circle cx="138.5" cy="458" r="2.75"/><circle cx="138.5" cy="466.8" r="2.75"/><circle cx="50.8" cy="508.4" r="2.75"/><circle cx="50.8" cy="515.4" r="2.75"/><circle cx="50.8" cy="533.6" r="2.75"/><circle cx="50.8" cy="553" r="2.75"/><circle cx="148" cy="402.1" r="2.75"/><circle cx="153.8" cy="407.7" r="2.75"/><circle cx="133.6" cy="417" r="2.75"/><circle cx="133.6" cy="427.2" r="2.75"/><circle cx="130.7" cy="428.4" r="2.75"/><circle cx="130.7" cy="437.2" r="2.75"/><circle cx="148.2" cy="435" r="2.75"/><circle cx="151.2" cy="436.4" r="2.75"/><circle cx="133.6" cy="445.2" r="2.75"/><circle cx="139.5" cy="458" r="2.75"/><circle cx="153.8" cy="460.5" r="2.75"/><circle cx="139.5" cy="466.4" r="2.75"/><circle cx="254" cy="386.4" r="2.75"/><circle cx="288.6" cy="387.5" r="2.75"/><circle cx="320.1" cy="383.9" r="2.75"/><circle cx="265.4" cy="396" r="2.75"/><circle cx="265.4" cy="398.5" r="2.75"/><circle cx="277" cy="404.7" r="2.75"/><circle cx="262.7" cy="411.6" r="2.75"/><circle cx="262.7" cy="414.5" r="2.75"/><circle cx="277" cy="412.6" r="2.75"/><circle cx="271.5" cy="415.3" r="2.75"/><circle cx="274.4" cy="417.4" r="2.75"/><circle cx="280" cy="418.9" r="2.75"/><circle cx="268.6" cy="420.4" r="2.75"/><circle cx="270.8" cy="421.8" r="2.75"/><circle cx="267.8" cy="422.6" r="2.75"/><circle cx="262.7" cy="425.5" r="2.75"/><circle cx="259.5" cy="429.9" r="2.75"/><circle cx="259.5" cy="432" r="2.75"/><circle cx="265.4" cy="434.2" r="2.75"/><circle cx="271.5" cy="436.9" r="2.75"/><circle cx="259.1" cy="437.4" r="2.75"/><circle cx="294.1" cy="426.2" r="2.75"/><circle cx="291.2" cy="431" r="2.75"/><circle cx="300" cy="436" r="2.75"/><circle cx="248.1" cy="441.5" r="2.75"/><circle cx="283.2" cy="443.3" r="2.75"/><circle cx="285.4" cy="445.9" r="2.75"/><circle cx="293.4" cy="448.1" r="2.75"/><circle cx="262.7" cy="448.8" r="2.75"/><circle cx="266.4" cy="447.4" r="2.75"/><circle cx="267.8" cy="449.6" r="2.75"/><circle cx="274.4" cy="449.3" r="2.75"/><circle cx="256.9" cy="453.5" r="2.75"/><circle cx="268.6" cy="453.5" r="2.75"/><circle cx="280" cy="451.8" r="2.75"/><circle cx="285.4" cy="451.8" r="2.75"/><circle cx="285.4" cy="456.9" r="2.75"/><circle cx="285.4" cy="459.8" r="2.75"/><circle cx="256.2" cy="459.3" r="2.75"/><circle cx="259.8" cy="459.3" r="2.75"/><circle cx="274.4" cy="459.1" r="2.75"/><circle cx="271.5" cy="461.7" r="2.75"/><circle cx="280" cy="460.5" r="2.75"/><circle cx="291.2" cy="464.9" r="2.75"/><circle cx="262.7" cy="467.1" r="2.75"/><circle cx="274.4" cy="467.5" r="2.75"/><circle cx="305.8" cy="467.8" r="2.75"/><circle cx="274.1" cy="481.4" r="2.75"/><circle cx="265.4" cy="494.5" r="2.75"/><circle cx="268.6" cy="496.4" r="2.75"/><circle cx="262.7" cy="499.6" r="2.75"/><circle cx="271.2" cy="506.5" r="2.75"/><circle cx="300" cy="505.8" r="2.75"/><circle cx="291.2" cy="516.1" r="2.75"/><circle cx="262.7" cy="467.5" r="2.75"/><circle cx="274.1" cy="468.2" r="2.75"/><circle cx="291.2" cy="464.9" r="2.75"/><circle cx="305.8" cy="468.2" r="2.75"/><circle cx="52.4" cy="432" r="2.75"/><circle cx="56.1" cy="430.8" r="2.75"/><circle cx="61" cy="432" r="2.75"/><circle cx="64.7" cy="430.8" r="2.75"/><circle cx="51.2" cy="437" r="2.75"/><circle cx="54.9" cy="438.2" r="2.75"/><circle cx="59.8" cy="437" r="2.75"/><circle cx="63.5" cy="439.4" r="2.75"/><circle cx="53.6" cy="443.1" r="2.75"/><circle cx="58.6" cy="444.4" r="2.75"/><circle cx="62.2" cy="446.8" r="2.75"/><circle cx="52.4" cy="450.5" r="2.75"/><circle cx="57.3" cy="451.7" r="2.75"/><circle cx="61" cy="450.5" r="2.75"/><circle cx="70.9" cy="434.5" r="2.75"/><circle cx="72.1" cy="439.4" r="2.75"/><circle cx="73.3" cy="444.4" r="2.75"/><circle cx="57.3" cy="434.5" r="2.75"/><circle cx="62.2" cy="435.7" r="2.75"/><circle cx="54.2" cy="446.8" r="2.75"/><circle cx="51.8" cy="454.2" r="2.75"/><circle cx="56.7" cy="455.4" r="2.75"/><circle cx="49.9" cy="429.6" r="2.75"/><circle cx="65.9" cy="437" r="2.75"/><circle cx="68.4" cy="433.3" r="2.75"/><circle cx="50.8" cy="415.4" r="2.75"/><circle cx="53.6" cy="420.3" r="2.75"/><circle cx="50.8" cy="425.3" r="2.75"/><circle cx="59.2" cy="419.1" r="2.75"/><circle cx="50.8" cy="431" r="2.75"/><circle cx="50.8" cy="436" r="2.75"/></g>
<path d="M50.8,465.3 C52.33,464.17 56.85,460.75 60,458.5 C63.15,456.25 66.53,454 69.7,451.8 C72.87,449.6 75.93,447.3 79,445.3 C82.07,443.3 85.1,441.3 88.1,439.8 C91.1,438.3 93.92,437.28 97,436.3 C100.08,435.32 103.6,434.53 106.6,433.9 C109.6,433.27 111.93,432.92 115,432.5 C118.07,432.08 120.83,431.75 125,431.4 C129.17,431.05 133.7,430.7 140,430.4 C146.3,430.1 159,429.73 162.8,429.6 C177.22,431.5 234.88,439.1 249.3,441 C261.13,442.43 308.47,448.17 320.3,449.6" fill="none" stroke="#0000ff" stroke-width="3.6" stroke-linecap="round" stroke-linejoin="round"/>
<text transform="translate(185.3,343.4) scale(1,1.08)" font-size="16.3" text-anchor="middle" fill="#000" stroke="#000" stroke-width="0.12">HB</text>
<text transform="translate(185,643.8) scale(1,1.1)" font-size="14.1" text-anchor="middle" fill="#000" stroke="#000" stroke-width="0.12">Hours</text>
<text transform="translate(11.6,482.15) scale(1,0.95) rotate(-90)" font-size="15" text-anchor="middle" fill="#000" stroke="#000" stroke-width="0.12">HB [g/dL]</text>
<path d="M407.5,469.3 C408.75,469.83 412.22,471.25 415,472.5 C417.78,473.75 420.23,475.12 424.2,476.8 C428.17,478.48 433.93,480.9 438.8,482.6 C443.67,484.3 448.53,485.78 453.4,487 C458.27,488.22 462.73,489.23 468,489.9 C473.27,490.57 477.88,490.78 485,491 C492.12,491.22 506.42,491.17 510.7,491.2 C527.48,491.25 594.62,491.45 611.4,491.5 C621.12,491.8 659.98,493 669.7,493.3 L669.7,540 C664.75,540.5 649.72,542.08 640,543 C630.28,543.92 616.17,545.08 611.4,545.5 C594.62,544.42 527.48,540.08 510.7,539 C508.08,538.73 500.12,537.93 495,537.4 C489.88,536.87 485.72,536.05 480,535.8 C474.28,535.55 465.7,535.7 460.7,535.9 C455.7,536.1 453.65,536.38 450,537 C446.35,537.62 443.1,538.32 438.8,539.6 C434.5,540.88 428.17,542.97 424.2,544.7 C420.23,546.43 417.78,548.18 415,550 C412.22,551.82 408.75,554.67 407.5,555.6 Z" fill="#fde4e0" stroke="none"/>
<path d="M407.5,469.3 C408.75,469.83 412.22,471.25 415,472.5 C417.78,473.75 420.23,475.12 424.2,476.8 C428.17,478.48 433.93,480.9 438.8,482.6 C443.67,484.3 448.53,485.78 453.4,487 C458.27,488.22 462.73,489.23 468,489.9 C473.27,490.57 477.88,490.78 485,491 C492.12,491.22 506.42,491.17 510.7,491.2 C527.48,491.25 594.62,491.45 611.4,491.5 C621.12,491.8 659.98,493 669.7,493.3" fill="none" stroke="#333" stroke-width="1.2"/>
<path d="M407.5,555.6 C408.75,554.67 412.22,551.82 415,550 C417.78,548.18 420.23,546.43 424.2,544.7 C428.17,542.97 434.5,540.88 438.8,539.6 C443.1,538.32 446.35,537.62 450,537 C453.65,536.38 455.7,536.1 460.7,535.9 C465.7,535.7 474.28,535.55 480,535.8 C485.72,536.05 489.88,536.87 495,537.4 C500.12,537.93 508.08,538.73 510.7,539 C527.48,540.08 594.62,544.42 611.4,545.5 C616.17,545.08 630.28,543.92 640,543 C649.72,542.08 664.75,540.5 669.7,540" fill="none" stroke="#333" stroke-width="1.2"/>
<line x1="407.5" y1="352.3" x2="407.5" y2="614" stroke="#333" stroke-width="1.6"/>
<line x1="390.75" y1="599" x2="684" y2="599" stroke="#505050" stroke-width="1.8"/>
<line x1="390" y1="599" x2="394.5" y2="599" stroke="#444" stroke-width="1.7"/>
<text transform="translate(387.6,602.6) scale(1,1.12)" font-size="11.2" text-anchor="end" fill="#000" stroke="#000" stroke-width="0.12">0</text>
<line x1="390" y1="516.75" x2="394.5" y2="516.75" stroke="#444" stroke-width="1.7"/>
<text transform="translate(387.6,520.35) scale(1,1.12)" font-size="11.2" text-anchor="end" fill="#000" stroke="#000" stroke-width="0.12">50</text>
<line x1="390" y1="434.5" x2="394.5" y2="434.5" stroke="#444" stroke-width="1.7"/>
<text transform="translate(387.6,438.1) scale(1,1.12)" font-size="11.2" text-anchor="end" fill="#000" stroke="#000" stroke-width="0.12">100</text>
<text transform="translate(407.5,626.05) scale(1,1.12)" font-size="11.2" text-anchor="middle" fill="#000" stroke="#000" stroke-width="0.12">0</text>
<line x1="474.5" y1="610.4" x2="474.5" y2="614.8" stroke="#333" stroke-width="1.2"/>
<text transform="translate(474.5,626.05) scale(1,1.12)" font-size="11.2" text-anchor="middle" fill="#000" stroke="#000" stroke-width="0.12">24</text>
<line x1="541.5" y1="610.4" x2="541.5" y2="614.8" stroke="#333" stroke-width="1.2"/>
<text transform="translate(541.5,626.05) scale(1,1.12)" font-size="11.2" text-anchor="middle" fill="#000" stroke="#000" stroke-width="0.12">48</text>
<line x1="608.5" y1="610.4" x2="608.5" y2="614.8" stroke="#333" stroke-width="1.2"/>
<text transform="translate(608.5,626.05) scale(1,1.12)" font-size="11.2" text-anchor="middle" fill="#000" stroke="#000" stroke-width="0.12">72</text>
<line x1="675.5" y1="610.4" x2="675.5" y2="614.8" stroke="#333" stroke-width="1.2"/>
<text transform="translate(675.5,626.05) scale(1,1.12)" font-size="11.2" text-anchor="middle" fill="#000" stroke="#000" stroke-width="0.12">96</text>
<line x1="407.5" y1="482" x2="407.5" y2="536" stroke="#000" stroke-width="5.5" stroke-linecap="round"/>
<g fill="#000"><circle cx="407.5" cy="363.8" r="2.75"/><circle cx="410" cy="451.4" r="2.75"/><circle cx="407.5" cy="471.2" r="2.75"/><circle cx="407.5" cy="477.2" r="2.75"/><circle cx="415.6" cy="482" r="2.75"/><circle cx="446.3" cy="475.2" r="2.75"/><circle cx="440.7" cy="484.7" r="2.75"/><circle cx="457.8" cy="488.5" r="2.75"/><circle cx="451.9" cy="493.6" r="2.75"/><circle cx="429.3" cy="490.7" r="2.75"/><circle cx="432.2" cy="495" r="2.75"/><circle cx="413.2" cy="498.7" r="2.75"/><circle cx="416.9" cy="497.2" r="2.75"/><circle cx="418.4" cy="498.7" r="2.75"/><circle cx="426.4" cy="499.4" r="2.75"/><circle cx="424.2" cy="502.3" r="2.75"/><circle cx="423.5" cy="503.8" r="2.75"/><circle cx="418.4" cy="507.4" r="2.75"/><circle cx="438.1" cy="507" r="2.75"/><circle cx="449" cy="505.3" r="2.75"/><circle cx="433" cy="510.4" r="2.75"/><circle cx="446.1" cy="511.8" r="2.75"/><circle cx="410.3" cy="508.9" r="2.75"/><circle cx="412.5" cy="512.6" r="2.75"/><circle cx="418.4" cy="518.4" r="2.75"/><circle cx="411.1" cy="518.4" r="2.75"/><circle cx="411.8" cy="522.8" r="2.75"/><circle cx="426.4" cy="516.2" r="2.75"/><circle cx="428.6" cy="518.4" r="2.75"/><circle cx="424.9" cy="520.6" r="2.75"/><circle cx="429.3" cy="522.8" r="2.75"/><circle cx="435.1" cy="517.7" r="2.75"/><circle cx="438.8" cy="516.9" r="2.75"/><circle cx="440.3" cy="519.9" r="2.75"/><circle cx="434.4" cy="522" r="2.75"/><circle cx="438.8" cy="524.2" r="2.75"/><circle cx="436.6" cy="525.7" r="2.75"/><circle cx="465.8" cy="519.6" r="2.75"/><circle cx="457.8" cy="527.9" r="2.75"/><circle cx="424.2" cy="540" r="2.75"/><circle cx="440.7" cy="541.8" r="2.75"/><circle cx="477.2" cy="495" r="2.75"/><circle cx="488.1" cy="493.9" r="2.75"/><circle cx="491.1" cy="506.3" r="2.75"/><circle cx="479.7" cy="509.6" r="2.75"/><circle cx="484.1" cy="508.9" r="2.75"/><circle cx="486.2" cy="509.6" r="2.75"/><circle cx="479.7" cy="516.9" r="2.75"/><circle cx="479.7" cy="519.9" r="2.75"/><circle cx="486.2" cy="518.4" r="2.75"/><circle cx="488.4" cy="519.9" r="2.75"/><circle cx="476.8" cy="531.5" r="2.75"/><circle cx="480.4" cy="530.8" r="2.75"/><circle cx="488.4" cy="533" r="2.75"/><circle cx="494.3" cy="522.8" r="2.75"/><circle cx="410" cy="503" r="2.75"/><circle cx="411" cy="515" r="2.75"/><circle cx="412" cy="527" r="2.75"/><circle cx="410" cy="530" r="2.75"/><circle cx="407.5" cy="541.8" r="2.75"/><circle cx="407.5" cy="545" r="2.75"/><circle cx="407.5" cy="547.6" r="2.75"/><circle cx="513.5" cy="494.3" r="2.75"/><circle cx="507.8" cy="498.4" r="2.75"/><circle cx="507.8" cy="513.3" r="2.75"/><circle cx="502.3" cy="516.9" r="2.75"/><circle cx="496.8" cy="522.8" r="2.75"/><circle cx="504.9" cy="528.6" r="2.75"/><circle cx="510.8" cy="540.7" r="2.75"/><circle cx="619.6" cy="479.4" r="2.75"/><circle cx="619.6" cy="486" r="2.75"/><circle cx="647.5" cy="493.3" r="2.75"/><circle cx="636.4" cy="498" r="2.75"/><circle cx="614.2" cy="503.4" r="2.75"/><circle cx="622.2" cy="505.5" r="2.75"/><circle cx="625.1" cy="504.2" r="2.75"/><circle cx="630.7" cy="503.8" r="2.75"/><circle cx="644.9" cy="507.9" r="2.75"/><circle cx="670.1" cy="511.1" r="2.75"/><circle cx="616.8" cy="511.1" r="2.75"/><circle cx="625.1" cy="513.3" r="2.75"/><circle cx="627.3" cy="515.2" r="2.75"/><circle cx="650.7" cy="517.4" r="2.75"/><circle cx="618.6" cy="519.9" r="2.75"/><circle cx="621.5" cy="520.6" r="2.75"/><circle cx="615.7" cy="519.1" r="2.75"/><circle cx="608.4" cy="522.8" r="2.75"/><circle cx="611.3" cy="524.2" r="2.75"/><circle cx="614.2" cy="523.5" r="2.75"/><circle cx="609.8" cy="527.9" r="2.75"/><circle cx="630.7" cy="523.8" r="2.75"/><circle cx="641.9" cy="524.2" r="2.75"/><circle cx="644.9" cy="524.2" r="2.75"/><circle cx="641.9" cy="527.4" r="2.75"/><circle cx="655.8" cy="527.4" r="2.75"/><circle cx="658.7" cy="525" r="2.75"/><circle cx="614.2" cy="530.8" r="2.75"/><circle cx="614.2" cy="534.5" r="2.75"/><circle cx="617.1" cy="537.1" r="2.75"/><circle cx="636.4" cy="536.2" r="2.75"/><circle cx="641.9" cy="534.7" r="2.75"/><circle cx="608.5" cy="517" r="2.75"/><circle cx="606" cy="521" r="2.75"/><circle cx="612" cy="518" r="2.75"/></g>
<path d="M407.5,512.6 C409.58,512.5 413.57,512.2 420,512 C426.43,511.8 437.77,511.32 446.1,511.4 C454.43,511.48 461.85,512.02 470,512.5 C478.15,512.98 488.22,513.88 495,514.3 C501.78,514.72 508.08,514.88 510.7,515 C527.48,515.53 594.62,517.67 611.4,518.2 C616.17,518.1 630.28,517.87 640,517.6 C649.72,517.33 664.75,516.77 669.7,516.6" fill="none" stroke="#0000ff" stroke-width="3.6" stroke-linecap="round" stroke-linejoin="round"/>
<text transform="translate(538.5,343.4) scale(1,1.08)" font-size="16.3" text-anchor="middle" fill="#000" stroke="#000" stroke-width="0.12">TIBC</text>
<text transform="translate(538.2,643.8) scale(1,1.1)" font-size="14.1" text-anchor="middle" fill="#000" stroke="#000" stroke-width="0.12">Hours</text>
<text transform="translate(361.6,481.2) scale(1,0.97) rotate(-90)" font-size="15" text-anchor="middle" fill="#000" stroke="#000" stroke-width="0.12">TIBC [µmol/L]</text>
<path d="M45.3,715.8 C46.08,715.25 48.07,713.6 50,712.5 C51.93,711.4 53.57,710.12 56.9,709.2 C60.23,708.28 65.62,707.43 70,707 C74.38,706.57 78.08,706.12 83.2,706.6 C88.32,707.08 96.23,708.75 100.7,709.9 C105.17,711.05 106.35,711.82 110,713.5 C113.65,715.18 118.43,718.03 122.6,720 C126.77,721.97 131.27,723.88 135,725.3 C138.73,726.72 141.08,727.7 145,728.5 C148.92,729.3 156.25,729.83 158.5,730.1 C173.45,728.17 233.25,720.43 248.2,718.5 C253.5,717.22 268.08,713.6 280,710.8 C291.92,708 313.08,703.22 319.7,701.7 L319.7,786.9 C311.95,788.5 285.12,793.4 273.2,796.5 C261.28,799.6 252.37,804 248.2,805.5 C233.25,808.52 173.45,820.58 158.5,823.6 C155.28,823.3 145.62,822.65 139.2,821.8 C132.78,820.95 125.2,819.4 120,818.5 C114.8,817.6 112.92,816.93 108,816.4 C103.08,815.87 96.58,815 90.5,815.3 C84.42,815.6 77.1,816.87 71.5,818.2 C65.9,819.53 60.48,821.92 56.9,823.3 C53.32,824.68 51.93,825.4 50,826.5 C48.07,827.6 46.08,829.33 45.3,829.9 Z" fill="#fde4e0" stroke="none"/>
<path d="M45.3,715.8 C46.08,715.25 48.07,713.6 50,712.5 C51.93,711.4 53.57,710.12 56.9,709.2 C60.23,708.28 65.62,707.43 70,707 C74.38,706.57 78.08,706.12 83.2,706.6 C88.32,707.08 96.23,708.75 100.7,709.9 C105.17,711.05 106.35,711.82 110,713.5 C113.65,715.18 118.43,718.03 122.6,720 C126.77,721.97 131.27,723.88 135,725.3 C138.73,726.72 141.08,727.7 145,728.5 C148.92,729.3 156.25,729.83 158.5,730.1 C173.45,728.17 233.25,720.43 248.2,718.5 C253.5,717.22 268.08,713.6 280,710.8 C291.92,708 313.08,703.22 319.7,701.7" fill="none" stroke="#333" stroke-width="1.2"/>
<path d="M45.3,829.9 C46.08,829.33 48.07,827.6 50,826.5 C51.93,825.4 53.32,824.68 56.9,823.3 C60.48,821.92 65.9,819.53 71.5,818.2 C77.1,816.87 84.42,815.6 90.5,815.3 C96.58,815 103.08,815.87 108,816.4 C112.92,816.93 114.8,817.6 120,818.5 C125.2,819.4 132.78,820.95 139.2,821.8 C145.62,822.65 155.28,823.3 158.5,823.6 C173.45,820.58 233.25,808.52 248.2,805.5 C252.37,804 261.28,799.6 273.2,796.5 C285.12,793.4 311.95,788.5 319.7,786.9" fill="none" stroke="#333" stroke-width="1.2"/>
<line x1="45.3" y1="681.6" x2="45.3" y2="944.1" stroke="#333" stroke-width="1.6"/>
<line x1="28" y1="928.25" x2="334" y2="928.25" stroke="#505050" stroke-width="1.8"/>
<line x1="27.7" y1="928.25" x2="31.8" y2="928.25" stroke="#444" stroke-width="1.7"/>
<text transform="translate(25.3,931.85) scale(1,1.12)" font-size="11.2" text-anchor="end" fill="#000" stroke="#000" stroke-width="0.12">0</text>
<line x1="27.7" y1="851" x2="31.8" y2="851" stroke="#444" stroke-width="1.7"/>
<text transform="translate(25.3,854.6) scale(1,1.12)" font-size="11.2" text-anchor="end" fill="#000" stroke="#000" stroke-width="0.12">2</text>
<line x1="27.7" y1="773.75" x2="31.8" y2="773.75" stroke="#444" stroke-width="1.7"/>
<text transform="translate(25.3,777.35) scale(1,1.12)" font-size="11.2" text-anchor="end" fill="#000" stroke="#000" stroke-width="0.12">4</text>
<line x1="27.7" y1="696.5" x2="31.8" y2="696.5" stroke="#444" stroke-width="1.7"/>
<text transform="translate(25.3,700.1) scale(1,1.12)" font-size="11.2" text-anchor="end" fill="#000" stroke="#000" stroke-width="0.12">6</text>
<text transform="translate(45.3,955.35) scale(1,1.12)" font-size="11.2" text-anchor="middle" fill="#000" stroke="#000" stroke-width="0.12">0</text>
<line x1="115.3" y1="939.7" x2="115.3" y2="944.1" stroke="#333" stroke-width="1.2"/>
<text transform="translate(115.3,955.35) scale(1,1.12)" font-size="11.2" text-anchor="middle" fill="#000" stroke="#000" stroke-width="0.12">24</text>
<line x1="185.3" y1="939.7" x2="185.3" y2="944.1" stroke="#333" stroke-width="1.2"/>
<text transform="translate(185.3,955.35) scale(1,1.12)" font-size="11.2" text-anchor="middle" fill="#000" stroke="#000" stroke-width="0.12">48</text>
<line x1="255.3" y1="939.7" x2="255.3" y2="944.1" stroke="#333" stroke-width="1.2"/>
<text transform="translate(255.3,955.35) scale(1,1.12)" font-size="11.2" text-anchor="middle" fill="#000" stroke="#000" stroke-width="0.12">72</text>
<line x1="325.3" y1="939.7" x2="325.3" y2="944.1" stroke="#333" stroke-width="1.2"/>
<text transform="translate(325.3,955.35) scale(1,1.12)" font-size="11.2" text-anchor="middle" fill="#000" stroke="#000" stroke-width="0.12">96</text>
<line x1="45.3" y1="734" x2="45.3" y2="824" stroke="#000" stroke-width="5.5" stroke-linecap="round"/>
<g fill="#000"><circle cx="62.7" cy="693.1" r="2.75"/><circle cx="62.7" cy="696.1" r="2.75"/><circle cx="62.7" cy="697.5" r="2.75"/><circle cx="68.6" cy="701.2" r="2.75"/><circle cx="45.3" cy="703.4" r="2.75"/><circle cx="45.3" cy="709.9" r="2.75"/><circle cx="56.9" cy="711.4" r="2.75"/><circle cx="59.8" cy="707.7" r="2.75"/><circle cx="68.6" cy="715.8" r="2.75"/><circle cx="129.9" cy="714.3" r="2.75"/><circle cx="45.3" cy="720.9" r="2.75"/><circle cx="45.3" cy="729.6" r="2.75"/><circle cx="62.7" cy="723.1" r="2.75"/><circle cx="68.6" cy="723.4" r="2.75"/><circle cx="56.2" cy="726.7" r="2.75"/><circle cx="58.4" cy="728.2" r="2.75"/><circle cx="74.4" cy="728.9" r="2.75"/><circle cx="77.3" cy="726.7" r="2.75"/><circle cx="65.7" cy="731.1" r="2.75"/><circle cx="65.7" cy="735.5" r="2.75"/><circle cx="89" cy="731.8" r="2.75"/><circle cx="51.1" cy="736.9" r="2.75"/><circle cx="56.9" cy="740.6" r="2.75"/><circle cx="56.9" cy="742.8" r="2.75"/><circle cx="80.3" cy="739.1" r="2.75"/><circle cx="97.8" cy="739.9" r="2.75"/><circle cx="67.1" cy="742.8" r="2.75"/><circle cx="69.3" cy="742.8" r="2.75"/><circle cx="74.4" cy="743.5" r="2.75"/><circle cx="77.3" cy="745" r="2.75"/><circle cx="80.3" cy="744.2" r="2.75"/><circle cx="86.1" cy="745" r="2.75"/><circle cx="129.9" cy="744.2" r="2.75"/><circle cx="129.9" cy="748.6" r="2.75"/><circle cx="49.6" cy="750.1" r="2.75"/><circle cx="53.2" cy="749.8" r="2.75"/><circle cx="56.2" cy="751.5" r="2.75"/><circle cx="62.7" cy="748.6" r="2.75"/><circle cx="59.8" cy="754.5" r="2.75"/><circle cx="80.3" cy="748.6" r="2.75"/><circle cx="86.1" cy="747.9" r="2.75"/><circle cx="86.1" cy="751.2" r="2.75"/><circle cx="71.2" cy="751.8" r="2.75"/><circle cx="132.5" cy="755.2" r="2.75"/><circle cx="71.5" cy="757.4" r="2.75"/><circle cx="75.1" cy="758.1" r="2.75"/><circle cx="80.3" cy="757.4" r="2.75"/><circle cx="50.3" cy="762.5" r="2.75"/><circle cx="53.2" cy="763.2" r="2.75"/><circle cx="80.3" cy="765.4" r="2.75"/><circle cx="86.1" cy="763.2" r="2.75"/><circle cx="126.7" cy="762.9" r="2.75"/><circle cx="71.5" cy="768.3" r="2.75"/><circle cx="73.7" cy="771.2" r="2.75"/><circle cx="74.4" cy="773.4" r="2.75"/><circle cx="91.9" cy="772.3" r="2.75"/><circle cx="56.9" cy="771.7" r="2.75"/><circle cx="65.7" cy="777.1" r="2.75"/><circle cx="86.1" cy="779" r="2.75"/><circle cx="118.2" cy="772" r="2.75"/><circle cx="122.6" cy="772" r="2.75"/><circle cx="48" cy="740" r="2.75"/><circle cx="50" cy="745" r="2.75"/><circle cx="52" cy="756" r="2.75"/><circle cx="48" cy="760" r="2.75"/><circle cx="50" cy="767" r="2.75"/><circle cx="49" cy="773" r="2.75"/><circle cx="56.9" cy="772.2" r="2.75"/><circle cx="72.2" cy="771.5" r="2.75"/><circle cx="74.4" cy="773.6" r="2.75"/><circle cx="91.9" cy="772.6" r="2.75"/><circle cx="65.7" cy="778" r="2.75"/><circle cx="86.1" cy="779.5" r="2.75"/><circle cx="86.1" cy="781.7" r="2.75"/><circle cx="77.3" cy="785.8" r="2.75"/><circle cx="89" cy="789" r="2.75"/><circle cx="65.7" cy="791.6" r="2.75"/><circle cx="97.5" cy="793.8" r="2.75"/><circle cx="51.1" cy="778.8" r="2.75"/><circle cx="51.1" cy="783.1" r="2.75"/><circle cx="51.1" cy="787.5" r="2.75"/><circle cx="49.6" cy="791.9" r="2.75"/><circle cx="48.1" cy="796.3" r="2.75"/><circle cx="54" cy="804.3" r="2.75"/><circle cx="59.8" cy="811.6" r="2.75"/><circle cx="54" cy="817" r="2.75"/><circle cx="48.1" cy="831.6" r="2.75"/><circle cx="45.3" cy="836.4" r="2.75"/><circle cx="62.7" cy="836.4" r="2.75"/><circle cx="45.3" cy="843.2" r="2.75"/><circle cx="45.3" cy="854.4" r="2.75"/><circle cx="45.3" cy="884.5" r="2.75"/><circle cx="118.2" cy="781.7" r="2.75"/><circle cx="124.1" cy="781" r="2.75"/><circle cx="118.2" cy="786.1" r="2.75"/><circle cx="127" cy="786.4" r="2.75"/><circle cx="121.1" cy="790.4" r="2.75"/><circle cx="127" cy="794.1" r="2.75"/><circle cx="127" cy="800.7" r="2.75"/><circle cx="115" cy="804.3" r="2.75"/><circle cx="118.2" cy="807.2" r="2.75"/><circle cx="121.1" cy="806.5" r="2.75"/><circle cx="121.1" cy="818.2" r="2.75"/><circle cx="134.3" cy="784.6" r="2.75"/><circle cx="129.8" cy="714.6" r="2.75"/><circle cx="129.8" cy="743.8" r="2.75"/><circle cx="129.8" cy="748.9" r="2.75"/><circle cx="156.1" cy="744.1" r="2.75"/><circle cx="144.4" cy="749.6" r="2.75"/><circle cx="132.7" cy="755.2" r="2.75"/><circle cx="127.2" cy="762.8" r="2.75"/><circle cx="147.3" cy="762.5" r="2.75"/><circle cx="159" cy="767.2" r="2.75"/><circle cx="130.1" cy="773.7" r="2.75"/><circle cx="136" cy="772.3" r="2.75"/><circle cx="144.4" cy="775.6" r="2.75"/><circle cx="135.7" cy="784.4" r="2.75"/><circle cx="127.2" cy="786.1" r="2.75"/><circle cx="150.3" cy="787.3" r="2.75"/><circle cx="127.2" cy="794.2" r="2.75"/><circle cx="138.6" cy="794.2" r="2.75"/><circle cx="135.5" cy="784.3" r="2.75"/><circle cx="150.1" cy="787.2" r="2.75"/><circle cx="138.5" cy="793.8" r="2.75"/><circle cx="126.8" cy="793.8" r="2.75"/><circle cx="126.8" cy="800.7" r="2.75"/><circle cx="150.1" cy="805" r="2.75"/><circle cx="153.1" cy="806.5" r="2.75"/><circle cx="115.1" cy="804.3" r="2.75"/><circle cx="118" cy="808" r="2.75"/><circle cx="121" cy="806.5" r="2.75"/><circle cx="121" cy="818.2" r="2.75"/><circle cx="138.9" cy="822.3" r="2.75"/><circle cx="273" cy="707.2" r="2.75"/><circle cx="264.2" cy="722.8" r="2.75"/><circle cx="273" cy="723.9" r="2.75"/><circle cx="308" cy="722.4" r="2.75"/><circle cx="261.3" cy="729.1" r="2.75"/><circle cx="264.2" cy="728.2" r="2.75"/><circle cx="284.6" cy="729.7" r="2.75"/><circle cx="290.5" cy="731.6" r="2.75"/><circle cx="267.1" cy="733.8" r="2.75"/><circle cx="246.7" cy="737.9" r="2.75"/><circle cx="261.3" cy="736.7" r="2.75"/><circle cx="264.2" cy="738.2" r="2.75"/><circle cx="273" cy="737.4" r="2.75"/><circle cx="261.3" cy="741.8" r="2.75"/><circle cx="266.4" cy="741.1" r="2.75"/><circle cx="270" cy="742.3" r="2.75"/><circle cx="281.7" cy="741.8" r="2.75"/><circle cx="284.6" cy="741.1" r="2.75"/><circle cx="290.5" cy="743.3" r="2.75"/><circle cx="292.7" cy="745.5" r="2.75"/><circle cx="293.4" cy="746.2" r="2.75"/><circle cx="258.4" cy="747.7" r="2.75"/><circle cx="268.6" cy="746.9" r="2.75"/><circle cx="267.1" cy="749.9" r="2.75"/><circle cx="272.2" cy="751.3" r="2.75"/><circle cx="261.3" cy="753.5" r="2.75"/><circle cx="284.6" cy="753.5" r="2.75"/><circle cx="278.8" cy="755.7" r="2.75"/><circle cx="305.1" cy="750.6" r="2.75"/><circle cx="252.5" cy="758.6" r="2.75"/><circle cx="257.6" cy="757.2" r="2.75"/><circle cx="258.4" cy="762.3" r="2.75"/><circle cx="261.3" cy="761.5" r="2.75"/><circle cx="268.6" cy="758.6" r="2.75"/><circle cx="271.5" cy="759.3" r="2.75"/><circle cx="273.7" cy="758.3" r="2.75"/><circle cx="278.8" cy="765.9" r="2.75"/><circle cx="287.6" cy="764.5" r="2.75"/><circle cx="320" cy="764.7" r="2.75"/><circle cx="266.4" cy="768.1" r="2.75"/><circle cx="270" cy="768.1" r="2.75"/><circle cx="258.4" cy="771.8" r="2.75"/><circle cx="261.3" cy="770.3" r="2.75"/><circle cx="299.2" cy="768.8" r="2.75"/><circle cx="293.4" cy="776.4" r="2.75"/><circle cx="261.3" cy="779.3" r="2.75"/><circle cx="275.9" cy="780.5" r="2.75"/><circle cx="255.4" cy="787.8" r="2.75"/><circle cx="258.7" cy="771.6" r="2.75"/><circle cx="261.6" cy="779.6" r="2.75"/><circle cx="276.1" cy="780.1" r="2.75"/><circle cx="293.7" cy="776.4" r="2.75"/><circle cx="255.5" cy="788.5" r="2.75"/><circle cx="296.5" cy="799.7" r="2.75"/><circle cx="267.1" cy="832.6" r="2.75"/></g>
<path d="M45.3,775.8 C46.42,775 48.85,772.62 52,771 C55.15,769.38 60.37,767.47 64.2,766.1 C68.03,764.73 71.35,763.65 75,762.8 C78.65,761.95 82.43,761.17 86.1,761 C89.77,760.83 93.35,761.18 97,761.8 C100.65,762.42 104.17,763.53 108,764.7 C111.83,765.87 116.33,767.57 120,768.8 C123.67,770.03 125.83,770.93 130,772.1 C134.17,773.27 140.25,774.88 145,775.8 C149.75,776.72 156.25,777.3 158.5,777.6 C173.45,774.68 233.25,763.02 248.2,760.1 C253.5,758.82 271.37,754.32 280,752.4 C288.63,750.48 293.38,749.88 300,748.6 C306.62,747.32 316.42,745.35 319.7,744.7" fill="none" stroke="#0000ff" stroke-width="3.6" stroke-linecap="round" stroke-linejoin="round"/>
<text transform="translate(181.8,672.7) scale(1,1.08)" font-size="16.3" text-anchor="middle" fill="#000" stroke="#000" stroke-width="0.12">Hepcidin</text>
<text transform="translate(181.5,973.1) scale(1,1.1)" font-size="14.1" text-anchor="middle" fill="#000" stroke="#000" stroke-width="0.12">Hours</text>
<text transform="translate(11.6,811.4) scale(1,0.96) rotate(-90)" font-size="15" text-anchor="middle" fill="#000" stroke="#000" stroke-width="0.12">Hepcidin (log)</text>
<path d="M398.5,731.6 C400.42,732.58 406.55,735.43 410,737.5 C413.45,739.57 415.23,741.33 419.2,744 C423.17,746.67 428.93,750.22 433.8,753.5 C438.67,756.78 443.53,760.53 448.4,763.7 C453.27,766.87 458.13,769.82 463,772.5 C467.87,775.18 472.78,778.23 477.6,779.8 C482.42,781.37 487.33,781.62 491.9,781.9 C496.47,782.18 500.13,781.75 505,781.5 C509.87,781.25 512.93,781.02 521.1,780.4 C529.27,779.78 545.85,778.4 554,777.8 C562.15,777.2 562.8,777.33 570,776.8 C577.2,776.27 592.67,774.97 597.2,774.6 C599.33,775.37 605.95,777.77 610,779.2 C614.05,780.63 617.33,781.4 621.5,783.2 C625.67,785 630.95,787.52 635,790 C639.05,792.48 644,796.75 645.8,798.1 L646.1,867.1 C643.45,867.87 635.97,870.47 630.2,871.7 C624.43,872.93 616.95,874.1 611.5,874.5 C606.05,874.9 602.17,874.75 597.5,874.1 C592.83,873.45 589.73,872.55 583.5,870.6 C577.27,868.65 567.9,865.13 560.1,862.4 C552.3,859.67 544.48,857.12 536.7,854.2 C528.92,851.28 519.52,847.05 513.4,844.9 C507.28,842.75 503.57,842.05 500,841.3 C496.43,840.55 495,840.53 492,840.4 C489,840.27 485.33,840.35 482,840.5 C478.67,840.65 475.02,840.9 472,841.3 C468.98,841.7 466.73,842.18 463.9,842.9 C461.07,843.62 458.07,844.52 455,845.6 C451.93,846.68 448.67,847.77 445.5,849.4 C442.33,851.03 439.08,853.25 436,855.4 C432.92,857.55 430,859.82 427,862.3 C424,864.78 421.08,867.52 418,870.3 C414.92,873.08 411.75,875.63 408.5,879 C405.25,882.37 400.17,888.58 398.5,890.5 Z" fill="#fde4e0" stroke="none"/>
<path d="M398.5,731.6 C400.42,732.58 406.55,735.43 410,737.5 C413.45,739.57 415.23,741.33 419.2,744 C423.17,746.67 428.93,750.22 433.8,753.5 C438.67,756.78 443.53,760.53 448.4,763.7 C453.27,766.87 458.13,769.82 463,772.5 C467.87,775.18 472.78,778.23 477.6,779.8 C482.42,781.37 487.33,781.62 491.9,781.9 C496.47,782.18 500.13,781.75 505,781.5 C509.87,781.25 512.93,781.02 521.1,780.4 C529.27,779.78 545.85,778.4 554,777.8 C562.15,777.2 562.8,777.33 570,776.8 C577.2,776.27 592.67,774.97 597.2,774.6 C599.33,775.37 605.95,777.77 610,779.2 C614.05,780.63 617.33,781.4 621.5,783.2 C625.67,785 630.95,787.52 635,790 C639.05,792.48 644,796.75 645.8,798.1" fill="none" stroke="#333" stroke-width="1.2"/>
<path d="M398.5,890.5 C400.17,888.58 405.25,882.37 408.5,879 C411.75,875.63 414.92,873.08 418,870.3 C421.08,867.52 424,864.78 427,862.3 C430,859.82 432.92,857.55 436,855.4 C439.08,853.25 442.33,851.03 445.5,849.4 C448.67,847.77 451.93,846.68 455,845.6 C458.07,844.52 461.07,843.62 463.9,842.9 C466.73,842.18 468.98,841.7 472,841.3 C475.02,840.9 478.67,840.65 482,840.5 C485.33,840.35 489,840.27 492,840.4 C495,840.53 496.43,840.55 500,841.3 C503.57,842.05 507.28,842.75 513.4,844.9 C519.52,847.05 528.92,851.28 536.7,854.2 C544.48,857.12 552.3,859.67 560.1,862.4 C567.9,865.13 577.27,868.65 583.5,870.6 C589.73,872.55 592.83,873.45 597.5,874.1 C602.17,874.75 606.05,874.9 611.5,874.5 C616.95,874.1 624.43,872.93 630.2,871.7 C635.97,870.47 643.45,867.87 646.1,867.1" fill="none" stroke="#333" stroke-width="1.2"/>
<line x1="398.5" y1="681.6" x2="398.5" y2="944.1" stroke="#333" stroke-width="1.6"/>
<line x1="380.5" y1="887" x2="684" y2="887" stroke="#000" stroke-width="1.9"/>
<line x1="380.6" y1="934.9" x2="385" y2="934.9" stroke="#444" stroke-width="1.7"/>
<text transform="translate(378.2,938.5) scale(1,1.12)" font-size="11.2" text-anchor="end" fill="#000" stroke="#000" stroke-width="0.12">-2</text>
<line x1="380.6" y1="887" x2="385" y2="887" stroke="#444" stroke-width="1.7"/>
<text transform="translate(378.2,890.6) scale(1,1.12)" font-size="11.2" text-anchor="end" fill="#000" stroke="#000" stroke-width="0.12">0</text>
<line x1="380.6" y1="839.1" x2="385" y2="839.1" stroke="#444" stroke-width="1.7"/>
<text transform="translate(378.2,842.7) scale(1,1.12)" font-size="11.2" text-anchor="end" fill="#000" stroke="#000" stroke-width="0.12">2</text>
<line x1="380.6" y1="791.2" x2="385" y2="791.2" stroke="#444" stroke-width="1.7"/>
<text transform="translate(378.2,794.8) scale(1,1.12)" font-size="11.2" text-anchor="end" fill="#000" stroke="#000" stroke-width="0.12">4</text>
<line x1="380.6" y1="743.3" x2="385" y2="743.3" stroke="#444" stroke-width="1.7"/>
<text transform="translate(378.2,746.9) scale(1,1.12)" font-size="11.2" text-anchor="end" fill="#000" stroke="#000" stroke-width="0.12">6</text>
<line x1="380.6" y1="695.4" x2="385" y2="695.4" stroke="#444" stroke-width="1.7"/>
<text transform="translate(378.2,699) scale(1,1.12)" font-size="11.2" text-anchor="end" fill="#000" stroke="#000" stroke-width="0.12">8</text>
<text transform="translate(398.5,955.35) scale(1,1.12)" font-size="11.2" text-anchor="middle" fill="#000" stroke="#000" stroke-width="0.12">0</text>
<line x1="467.5" y1="939.7" x2="467.5" y2="944.1" stroke="#333" stroke-width="1.2"/>
<text transform="translate(467.5,955.35) scale(1,1.12)" font-size="11.2" text-anchor="middle" fill="#000" stroke="#000" stroke-width="0.12">24</text>
<line x1="536.5" y1="939.7" x2="536.5" y2="944.1" stroke="#333" stroke-width="1.2"/>
<text transform="translate(536.5,955.35) scale(1,1.12)" font-size="11.2" text-anchor="middle" fill="#000" stroke="#000" stroke-width="0.12">48</text>
<line x1="605.5" y1="939.7" x2="605.5" y2="944.1" stroke="#333" stroke-width="1.2"/>
<text transform="translate(605.5,955.35) scale(1,1.12)" font-size="11.2" text-anchor="middle" fill="#000" stroke="#000" stroke-width="0.12">72</text>
<line x1="674.5" y1="939.7" x2="674.5" y2="944.1" stroke="#333" stroke-width="1.2"/>
<text transform="translate(674.5,955.35) scale(1,1.12)" font-size="11.2" text-anchor="middle" fill="#000" stroke="#000" stroke-width="0.12">96</text>
<line x1="398.5" y1="785" x2="398.5" y2="862" stroke="#000" stroke-width="5.5" stroke-linecap="round"/>
<g fill="#000"><circle cx="398.5" cy="693.6" r="2.75"/><circle cx="398.5" cy="707.8" r="2.75"/><circle cx="403.9" cy="716.3" r="2.75"/><circle cx="398.5" cy="729.7" r="2.75"/><circle cx="412.6" cy="732.3" r="2.75"/><circle cx="421.1" cy="736.7" r="2.75"/><circle cx="403.9" cy="737.4" r="2.75"/><circle cx="398.5" cy="746.9" r="2.75"/><circle cx="398.5" cy="749.1" r="2.75"/><circle cx="421.4" cy="749.6" r="2.75"/><circle cx="424.3" cy="748.4" r="2.75"/><circle cx="467.4" cy="751" r="2.75"/><circle cx="398.5" cy="764.5" r="2.75"/><circle cx="414.8" cy="767.4" r="2.75"/><circle cx="418.5" cy="765.9" r="2.75"/><circle cx="398.5" cy="773.9" r="2.75"/><circle cx="458.6" cy="775" r="2.75"/><circle cx="415.5" cy="781.7" r="2.75"/><circle cx="406.8" cy="785.6" r="2.75"/><circle cx="409.7" cy="786.4" r="2.75"/><circle cx="398.5" cy="787.8" r="2.75"/><circle cx="483.4" cy="787.8" r="2.75"/><circle cx="485.6" cy="787.1" r="2.75"/><circle cx="597.3" cy="737" r="2.75"/><circle cx="415.5" cy="782.2" r="2.75"/><circle cx="406.8" cy="785.5" r="2.75"/><circle cx="415.5" cy="791.4" r="2.75"/><circle cx="421.1" cy="795.3" r="2.75"/><circle cx="409" cy="794.6" r="2.75"/><circle cx="406.8" cy="798.2" r="2.75"/><circle cx="430.1" cy="799" r="2.75"/><circle cx="418.5" cy="803.1" r="2.75"/><circle cx="424.3" cy="804.8" r="2.75"/><circle cx="433.1" cy="806" r="2.75"/><circle cx="427.2" cy="808.5" r="2.75"/><circle cx="450.6" cy="802.6" r="2.75"/><circle cx="441.1" cy="809.2" r="2.75"/><circle cx="450.6" cy="812.8" r="2.75"/><circle cx="473.2" cy="794.6" r="2.75"/><circle cx="482.7" cy="788.8" r="2.75"/><circle cx="485.6" cy="787.3" r="2.75"/><circle cx="473.2" cy="806" r="2.75"/><circle cx="489.3" cy="804.8" r="2.75"/><circle cx="424.3" cy="815.8" r="2.75"/><circle cx="433.1" cy="815" r="2.75"/><circle cx="441.1" cy="818.4" r="2.75"/><circle cx="455.7" cy="820.9" r="2.75"/><circle cx="470.3" cy="813.6" r="2.75"/><circle cx="474.7" cy="814.3" r="2.75"/><circle cx="477.6" cy="815" r="2.75"/><circle cx="471" cy="818.7" r="2.75"/><circle cx="470.3" cy="822.3" r="2.75"/><circle cx="469.6" cy="824.5" r="2.75"/><circle cx="479" cy="822.3" r="2.75"/><circle cx="487.8" cy="827.4" r="2.75"/><circle cx="403.9" cy="819.4" r="2.75"/><circle cx="409.7" cy="820.6" r="2.75"/><circle cx="418.5" cy="821.6" r="2.75"/><circle cx="421.4" cy="823.5" r="2.75"/><circle cx="412.6" cy="826.7" r="2.75"/><circle cx="413.4" cy="828.9" r="2.75"/><circle cx="424.3" cy="827.4" r="2.75"/><circle cx="427.2" cy="826" r="2.75"/><circle cx="403.9" cy="826.7" r="2.75"/><circle cx="409" cy="835.2" r="2.75"/><circle cx="444.7" cy="829.6" r="2.75"/><circle cx="438.9" cy="835.2" r="2.75"/><circle cx="433.1" cy="836.2" r="2.75"/><circle cx="424.3" cy="839.9" r="2.75"/><circle cx="401" cy="841.3" r="2.75"/><circle cx="409.7" cy="853" r="2.75"/><circle cx="427.2" cy="853" r="2.75"/><circle cx="398.5" cy="872.7" r="2.75"/><circle cx="433.1" cy="877" r="2.75"/><circle cx="398.5" cy="885.8" r="2.75"/><circle cx="398.5" cy="891.9" r="2.75"/><circle cx="398.5" cy="928.2" r="2.75"/><circle cx="402" cy="790" r="2.75"/><circle cx="404" cy="795" r="2.75"/><circle cx="401" cy="800" r="2.75"/><circle cx="403" cy="806" r="2.75"/><circle cx="401.5" cy="812" r="2.75"/><circle cx="402.5" cy="830" r="2.75"/><circle cx="401" cy="836" r="2.75"/><circle cx="400.5" cy="846" r="2.75"/><circle cx="482.4" cy="788.5" r="2.75"/><circle cx="485.3" cy="787.4" r="2.75"/><circle cx="473.2" cy="794.7" r="2.75"/><circle cx="508" cy="794.7" r="2.75"/><circle cx="473.2" cy="806.4" r="2.75"/><circle cx="490.9" cy="804.5" r="2.75"/><circle cx="502.1" cy="809.6" r="2.75"/><circle cx="502.1" cy="811.8" r="2.75"/><circle cx="490.9" cy="815.2" r="2.75"/><circle cx="478.8" cy="815.5" r="2.75"/><circle cx="475.8" cy="816.2" r="2.75"/><circle cx="510.9" cy="819.9" r="2.75"/><circle cx="471.5" cy="821.3" r="2.75"/><circle cx="471.5" cy="824.2" r="2.75"/><circle cx="472.9" cy="819.1" r="2.75"/><circle cx="478.8" cy="822.8" r="2.75"/><circle cx="496.3" cy="822.8" r="2.75"/><circle cx="496.3" cy="826.4" r="2.75"/><circle cx="487.5" cy="827.4" r="2.75"/><circle cx="508.1" cy="794.8" r="2.75"/><circle cx="502.2" cy="811" r="2.75"/><circle cx="510.8" cy="819.7" r="2.75"/><circle cx="612.1" cy="799.4" r="2.75"/><circle cx="638.3" cy="804.3" r="2.75"/><circle cx="606.7" cy="811.6" r="2.75"/><circle cx="609.4" cy="809.7" r="2.75"/><circle cx="616.1" cy="808" r="2.75"/><circle cx="617.5" cy="807.5" r="2.75"/><circle cx="622.9" cy="812.9" r="2.75"/><circle cx="623.7" cy="815.6" r="2.75"/><circle cx="634.5" cy="817" r="2.75"/><circle cx="640.4" cy="820.2" r="2.75"/><circle cx="643.7" cy="821" r="2.75"/><circle cx="669.6" cy="824.5" r="2.75"/><circle cx="614.8" cy="821" r="2.75"/><circle cx="620.2" cy="822.9" r="2.75"/><circle cx="618.8" cy="826.4" r="2.75"/><circle cx="610.7" cy="827.8" r="2.75"/><circle cx="629.6" cy="827.8" r="2.75"/><circle cx="620.2" cy="831.8" r="2.75"/><circle cx="606.1" cy="836.7" r="2.75"/><circle cx="614.8" cy="836.7" r="2.75"/><circle cx="609.4" cy="841.3" r="2.75"/><circle cx="646.4" cy="840.5" r="2.75"/><circle cx="609.4" cy="850.2" r="2.75"/><circle cx="617.5" cy="852.1" r="2.75"/><circle cx="629.6" cy="852.1" r="2.75"/><circle cx="635" cy="856.7" r="2.75"/><circle cx="612.1" cy="857.5" r="2.75"/><circle cx="606.1" cy="861.5" r="2.75"/><circle cx="614.8" cy="866.4" r="2.75"/><circle cx="623.7" cy="879.9" r="2.75"/></g>
<path d="M398.5,811.4 C400.73,811.03 407.48,809.77 411.9,809.2 C416.32,808.63 420.13,808.3 425,808 C429.87,807.7 435.93,807.4 441.1,807.4 C446.27,807.4 451.13,807.65 456,808 C460.87,808.35 464.63,809.03 470.3,809.5 C475.97,809.97 483.97,810.42 490,810.8 C496.03,811.18 498.17,810.93 506.5,811.8 C514.83,812.67 529.42,814.53 540,816 C550.58,817.47 558.67,818.95 570,820.6 C581.33,822.25 596.33,824.17 608,825.9 C619.67,827.63 629.87,829.33 640,831 C650.13,832.67 664,835.08 668.8,835.9" fill="none" stroke="#0000ff" stroke-width="3.6" stroke-linecap="round" stroke-linejoin="round"/>
<text transform="translate(533.5,672.7) scale(1,1.08)" font-size="16.3" text-anchor="middle" fill="#000" stroke="#000" stroke-width="0.12">IL-6</text>
<text transform="translate(533.2,973.1) scale(1,1.1)" font-size="14.1" text-anchor="middle" fill="#000" stroke="#000" stroke-width="0.12">Hours</text>
<text transform="translate(361.4,811.4) scale(1,0.93) rotate(-90)" font-size="15" text-anchor="middle" fill="#000" stroke="#000" stroke-width="0.12">IL-6 (log)</text>
</g>
</svg>
</body></html>
